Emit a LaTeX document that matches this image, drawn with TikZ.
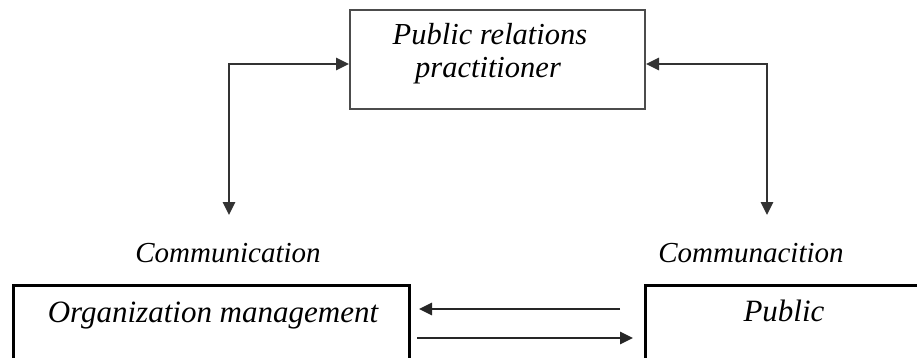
\documentclass[tikz,border=0pt]{standalone}
\usepackage{fontspec}
\setmainfont{Liberation Serif}
\usetikzlibrary{arrows.meta}
\begin{document}
\begin{tikzpicture}[x=1pt,y=-1pt,
  txt/.style={font=\fontsize{29}{33}\selectfont\itshape, inner sep=0pt},
  bigtxt/.style={font=\fontsize{31}{35}\selectfont\itshape, inner sep=0pt, anchor=base},
  toptxt/.style={font=\fontsize{30.5}{34}\selectfont\itshape, inner sep=0pt, anchor=base},
  topbox/.style={draw=black!70, line width=2pt, minimum width=295pt, minimum height=99pt, inner sep=0pt},
  basebox/.style={draw=black, line width=3pt, inner sep=0pt},
  conn/.style={draw=black!80, line width=2.8pt, {Triangle[length=13pt,width=12pt]}-{Triangle[length=13pt,width=12pt]}},
  flow/.style={draw=black!85, line width=2.8pt, -{Triangle[length=13pt,width=12pt]}}]
\useasboundingbox (0,0) rectangle (917,358);
\clip (0,0) rectangle (917,358);

% practitioner box
\node[topbox] (pr) at (497.5,60) {};
\node[toptxt] (prtext1) at (490,45) {Public relations};
\node[toptxt] (prtext2) at (488,78) {practitioner};

% side connectors down to the two parties
\coordinate (ltip) at (229,215);
\coordinate (lcorner) at (229,64);
\coordinate (rtip) at (767,215);
\coordinate (rcorner) at (767,64);
\draw[conn] (ltip) -- (lcorner) -- (lcorner -| pr.west);
\draw[conn] (rtip) -- (rcorner) -- (rcorner -| pr.east);

% labels above the lower boxes
\node[txt] (lcomm) at (228,253) {Communication};
\node[txt] (rcomm) at (751,253) {Communacition};

% lower boxes, running past the bottom edge
\node[basebox, minimum width=396pt, minimum height=110pt] (org) at (211,340) {};
\node[basebox, minimum width=300pt, minimum height=110pt] (pub) at (795,340) {};
\node[bigtxt] (orgtext) at (213,322) {Organization management};
\node[bigtxt] (pubtext) at (784,321) {Public};

% two-way exchange between organisation and public
\coordinate (a1s) at (620,309);
\coordinate (a1e) at (419,309);
\coordinate (a2s) at (417,338);
\coordinate (a2e) at (633,338);
\draw[flow] (a1s) -- (a1e);
\draw[flow] (a2s) -- (a2e);
\end{tikzpicture}
\end{document}
